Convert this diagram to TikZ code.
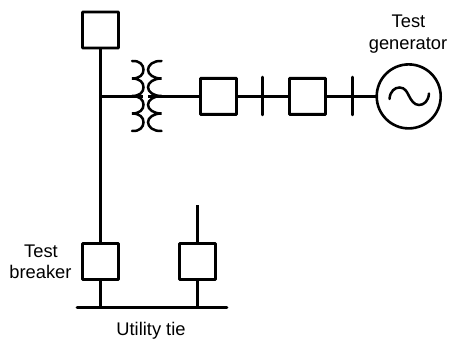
\documentclass[tikz,border=0pt]{standalone}
\usepackage{fontspec}
\setmainfont{Liberation Sans}
\tikzset{
  x=1pt,y=-1pt,
  wire/.style={draw=black,line width=2.8pt},
  thin wire/.style={draw=black,line width=2.5pt},
  level wire/.style={draw=black,line width=2.9pt},
  brk/.style={draw=black,line width=2.8pt,fill=white,minimum width=36pt,minimum height=36pt,inner sep=0pt,outer sep=0pt,rounded corners=0.5pt},
  gen/.style={draw=black,line width=2.6pt,circle,minimum size=64pt,inner sep=0pt,outer sep=0pt},
  coil/.style={draw=black,line width=2.5pt,line cap=round},
  lbl/.style={font=\fontsize{18.3}{22}\selectfont,anchor=base,inner sep=0pt,text=black}
}
\begin{document}
\begin{tikzpicture}
\useasboundingbox (0,0) rectangle (450,339);
\node[brk] (b1) at (100.5,30) {};
\node[brk] (b2) at (218.5,96.4) {};
\node[brk] (b3) at (307.5,96.4) {};
\node[brk] (b4) at (100.5,261.5) {};
\node[brk] (b5) at (197.5,261.5) {};
\node[gen] (g) at (408.7,96.4) {};
\coordinate (j) at (100.5,96.4);
\coordinate (bot1) at (100.5,307.4);
\coordinate (bot2) at (197.5,307.4);
\coordinate (stub) at (197.5,205.5);
\coordinate (busl) at (77,307.4);
\coordinate (busr) at (227,307.4);
\coordinate (tl) at (143,96.4);
\coordinate (tr) at (148,96.4);
\coordinate (t1) at (262.4,77);
\coordinate (t1b) at (262.4,115);
\coordinate (t2) at (352.3,77);
\coordinate (t2b) at (352.3,115);
% wires
\draw[wire] (b1.south) -- (b4.north);
\draw[wire] (b4.south) -- (bot1);
\draw[wire] (b5.south) -- (bot2);
\draw[thin wire] (b5.north) -- (stub);
\draw[level wire,line cap=round] (busl) -- (busr);
\draw[level wire] (j) -- (tl);
\draw[level wire] (tr) -- (b2.west);
\draw[level wire] (b2.east) -- (b3.west);
\draw[level wire] (b3.east) -- (g.west);
\draw[thin wire,line cap=round] (t1) -- (t1b);
\draw[thin wire,line cap=round] (t2) -- (t2b);
% transformer
\draw[coil] (132,61)
  .. controls (140,60.5) and (143.5,65) .. (143.5,69.8)
  .. controls (143.5,74.5) and (140,78.5) .. (132,78.5)
  .. controls (140,78.5) and (143.5,82.5) .. (143.5,87.2)
  .. controls (143.5,92) and (140,96) .. (132,96)
  .. controls (140,96) and (143.5,100) .. (143.5,104.8)
  .. controls (143.5,109.5) and (140,113.5) .. (132,113.5)
  .. controls (140,113.5) and (143.5,117.5) .. (143.5,122.2)
  .. controls (143.5,127) and (140,131.5) .. (132,131);
\draw[coil] (161.5,61)
  .. controls (153.5,60.5) and (148,65) .. (148,69.8)
  .. controls (148,74.5) and (153.5,78.5) .. (161.5,78.5)
  .. controls (153.5,78.5) and (148,82.5) .. (148,87.2)
  .. controls (148,92) and (153.5,96) .. (161.5,96)
  .. controls (153.5,96) and (148,100) .. (148,104.8)
  .. controls (148,109.5) and (153.5,113.5) .. (161.5,113.5)
  .. controls (153.5,113.5) and (148,117.5) .. (148,122.2)
  .. controls (148,127) and (153.5,131.5) .. (161.5,131);
% sine
\draw[coil] (389.5,99)
  .. controls (390,91) and (395,87.5) .. (399.5,87.5)
  .. controls (405,87.5) and (407,92) .. (409,96)
  .. controls (411,100) and (414,105) .. (419,105)
  .. controls (424,105) and (428.5,101) .. (429,93.5);
% labels
\node[lbl] (l1) at (408.5,27.3) {Test};
\node[lbl] (l2) at (408,49.3) {generator};
\node[lbl] (l3) at (41,257.7) {Test};
\node[lbl] (l4) at (40.5,279) {breaker};
\node[lbl] (l5) at (151,335.7) {Utility tie};
\end{tikzpicture}
\end{document}
